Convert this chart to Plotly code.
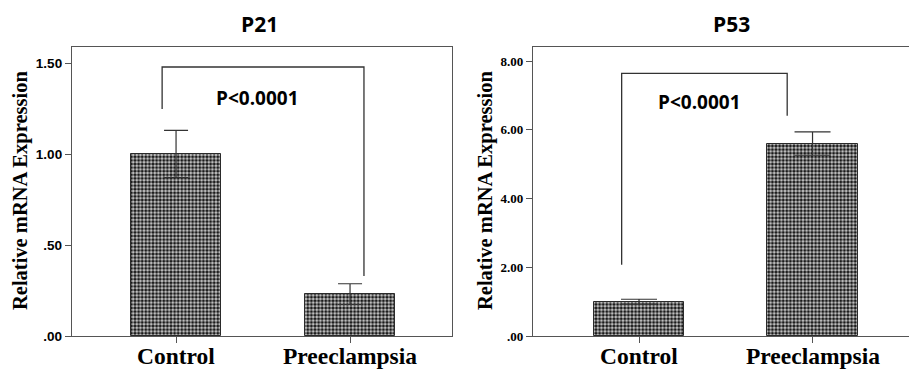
import plotly.graph_objects as go

categories = ["Control", "Preeclampsia"]

p21_values = [1.00, 0.23]
p21_errors = [0.13, 0.057]
p21_ticks = [0, 0.5, 1.0, 1.5]
p21_ticklabels = [".00", ".50", "1.00", "1.50"]
p21_bracket_x = [-0.08, 1.08]
p21_bracket_y = [1.247, 1.478, 0.33]   # left end, top, right end

p53_values = [1.00, 5.60]
p53_errors = [0.07, 0.34]
p53_ticks = [0, 2, 4, 6, 8]
p53_ticklabels = [".00", "2.00", "4.00", "6.00", "8.00"]
p53_bracket_x = [-0.10, 0.854]
p53_bracket_y = [2.07, 7.64, 6.41]

sig_text = "P<0.0001"
y_title = "Relative mRNA Expression"

W, H = 909, 369
T, B = 47, 33
fig = go.Figure()

pattern = dict(shape=".", fgcolor="#1a1a1a", bgcolor="#d0d0d0", size=3.6, solidity=0.6, fillmode="replace")

def add_bars(vals, errs, xa, ya, capw):
    fig.add_trace(go.Bar(
        x=[0, 1], y=vals, width=0.52, xaxis=xa, yaxis=ya,
        marker=dict(color="#444444", pattern=pattern, line=dict(color="#2a2a2a", width=1)),
        error_y=dict(type="data", array=errs, visible=True, color="#333333", thickness=1.2, width=capw),
        showlegend=False, hoverinfo="skip"))

add_bars(p21_values, p21_errors, "x", "y", 12)
add_bars(p53_values, p53_errors, "x2", "y2", 18)

axis_line = dict(showline=True, linecolor="#555555", linewidth=1.3, showgrid=False, zeroline=False,
                 ticks="outside", ticklen=6, tickcolor="#555555", tickwidth=1.3, automargin=False)

xfont = dict(family="Liberation Serif", size=23.5, color="black", weight="bold")

fig.update_layout(
    template="none",
    width=W, height=H, margin=dict(l=0, r=0, t=T, b=B),
    plot_bgcolor="white", paper_bgcolor="white", bargap=0,
    xaxis=dict(domain=[72/W, 452/W], range=[-0.598, 1.586], tickvals=[0, 1], showticklabels=False,
               mirror=True, anchor="y", **axis_line),
    yaxis=dict(domain=[0, 1], range=[0, 1.588], tickvals=p21_ticks, ticktext=p21_ticklabels,
               tickfont=dict(family="Liberation Sans", size=13.5, color="black", weight="bold"),
               mirror=True, anchor="x", **axis_line),
    xaxis2=dict(domain=[533/W, 1.0], range=[-0.611, 1.556], tickvals=[0, 1], showticklabels=False,
                mirror=True, anchor="y2", **axis_line),
    yaxis2=dict(domain=[0, 1], range=[0, 8.41], tickvals=p53_ticks, ticktext=p53_ticklabels,
                tickfont=dict(family="Liberation Serif", size=13, color="black", weight="bold"),
                mirror=False, anchor="x2", **axis_line),
)

def bracket(xa, ya, bx, by):
    fig.add_shape(type="path", xref=xa, yref=ya,
                  path=f"M {bx[0]} {by[0]} L {bx[0]} {by[1]} L {bx[1]} {by[1]} L {bx[1]} {by[2]}",
                  line=dict(color="#333333", width=1.3))

bracket("x", "y", p21_bracket_x, p21_bracket_y)
bracket("x2", "y2", p53_bracket_x, p53_bracket_y)

def py(px):
    return (H - B - px) / (H - T - B)

sig_font = dict(family="Open Sans", size=19, color="black", weight="bold")
title_font = dict(family="Open Sans", size=21, color="black", weight="bold")
ytitle_font = dict(family="Liberation Serif", size=20.5, color="black", weight="bold")

ann = dict(showarrow=False, xanchor="center", yanchor="middle")

fig.add_annotation(x=0.47, y=1.31, xref="x", yref="y", text=sig_text, font=sig_font, **ann)
fig.add_annotation(x=0.35, y=6.82, xref="x2", yref="y2", text=sig_text, font=sig_font, **ann)

fig.add_annotation(x=259/W, y=py(24), xref="paper", yref="paper", text="P21", font=title_font, **ann)
fig.add_annotation(x=731/W, y=py(24), xref="paper", yref="paper", text="P53", font=title_font, **ann)

fig.add_annotation(x=20/W, y=py(191), xref="paper", yref="paper", text=y_title, textangle=-90,
                   font=ytitle_font, **ann)
fig.add_annotation(x=485/W, y=py(191), xref="paper", yref="paper", text=y_title, textangle=-90,
                   font=ytitle_font, **ann)

# category labels under each axis
for xa in ("x", "x2"):
    for i, c in enumerate(categories):
        fig.add_annotation(x=i, y=py(355.5), xref=xa, yref="paper", text=c, font=xfont, **ann)

fig.write_html("out.html", config={"displayModeBar": False},
               post_script="document.body.style.margin='0';document.body.style.overflow='hidden';")
